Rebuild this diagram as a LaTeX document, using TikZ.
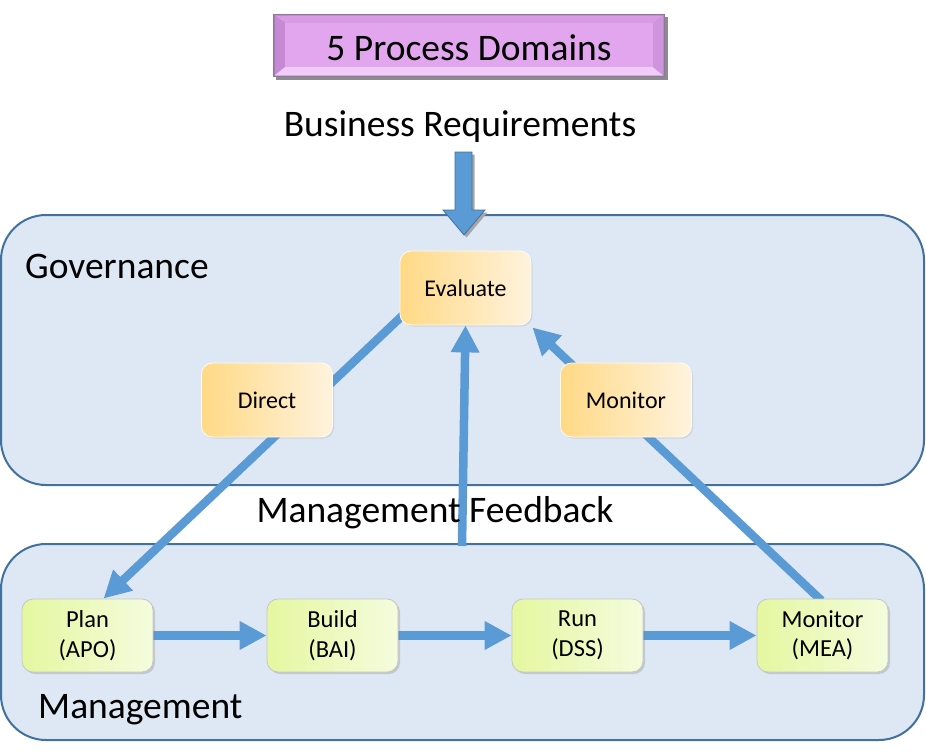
\documentclass[tikz,border=0pt]{standalone}
\usepackage{fontspec}
\setmainfont{Carlito}
\usetikzlibrary{arrows.meta,shadows,calc}
\pgfdeclarelayer{bottom}
\pgfdeclarelayer{middle}
\pgfsetlayers{bottom,middle,main}
\definecolor{flowblue}{HTML}{5B9BD5}
\definecolor{flowdark}{HTML}{41719C}
\definecolor{regfill}{HTML}{DEE8F4}
\definecolor{regline}{HTML}{41719C}
\definecolor{orgA}{HTML}{FFD985}
\definecolor{orgB}{HTML}{FFF3DE}
\definecolor{grnA}{HTML}{E5F7A0}
\definecolor{grnB}{HTML}{F4FCDD}
\definecolor{purIn}{HTML}{E2A6EE}
\definecolor{purTop}{HTML}{D99AE6}
\definecolor{purLeft}{HTML}{C68AD4}
\definecolor{purBot}{HTML}{F2CCF8}
\definecolor{purRight}{HTML}{CF95DC}
\definecolor{purEdge}{HTML}{8E76A0}
\tikzset{
  bigtext/.style={font=\fontsize{37.5}{44}\selectfont, inner sep=0pt},
  region/.style={draw=regline, line width=2pt, fill=regfill, rounded corners=45pt, minimum width=923pt},
  govbox/.style={rounded corners=11pt, minimum width=131pt, minimum height=74pt,
     left color=orgA, right color=orgB, draw=white!60!orgB, line width=0.8pt,
     drop shadow={opacity=0.18, shadow xshift=1.5pt, shadow yshift=-1.5pt},
     font=\fontsize{24}{29}\selectfont, align=center},
  mgmtbox/.style={rounded corners=11pt, minimum width=131pt, minimum height=73pt,
     left color=grnA, right color=grnB, draw=gray!45, line width=0.8pt,
     drop shadow={opacity=0.3, shadow xshift=2pt, shadow yshift=-2pt},
     font=\fontsize{24.5}{29.5}\selectfont, align=center},
  flow/.style={draw=flowblue, line width=8.5pt, -{Triangle[length=27pt,width=27pt]}},
}
\begin{document}
\begin{tikzpicture}[x=1pt,y=-1pt]
\useasboundingbox (0,0) rectangle (926,752);
% regions
\begin{pgfonlayer}{bottom}
\fill[white] (0,0) rectangle (926,752);
\node[region, minimum height=270pt] (gov) at (462.5,350) {};
\node[region, minimum height=196pt] (mgmt) at (462.5,642) {};
\end{pgfonlayer}
% title box
\fill[black!45] (276,17) rectangle (668,80);
\fill[purEdge] (273,14) rectangle (665,77);
\fill[purTop] (274.5,15.5) -- (663.5,15.5) -- (653,23) -- (285,23) -- cycle;
\fill[purLeft] (274.5,15.5) -- (285,23) -- (285,67) -- (274.5,75.5) -- cycle;
\fill[purBot] (274.5,75.5) -- (285,67) -- (653,67) -- (663.5,75.5) -- cycle;
\fill[purRight] (663.5,15.5) -- (653,23) -- (653,67) -- (663.5,75.5) -- cycle;
\fill[purIn] (285,23) rectangle (653,67);
\node[bigtext] (title) at (469,48) {5 Process Domains};
\node[bigtext] (breq) at (460,127) {Business Requirements};
% big down arrow
\begin{pgfonlayer}{middle}
\fill[black!35] (457.5,154.5) -- (474.5,154.5) -- (474.5,212.5) -- (487.5,212.5) -- (466.5,237.5) -- (445.5,212.5) -- (457.5,212.5) -- cycle;
\filldraw[fill=flowblue, draw=flowdark, line width=0.8pt] (455,152) -- (472,152) -- (472,210) -- (485,210) -- (464,235) -- (443,210) -- (455,210) -- cycle;
\end{pgfonlayer}
% labels
\node[bigtext, anchor=west] (govlabel) at (25,266) {Governance};
\node[bigtext, anchor=west] (mgmtlabel) at (38,710) {Management};
\node[bigtext] (fblabel) at (435,513) {Management Feedback};
% governance nodes
\node[govbox] (eval) at (465.5,288) {Evaluate};
\node[govbox] (direct) at (267,400) {Direct};
\node[govbox] (gmon) at (626,400) {Monitor};
% management nodes
\node[mgmtbox] (plan) at (87.5,635.5) {Plan\\(APO)};
\node[mgmtbox] (build) at (332.5,635.5) {Build\\(BAI)};
\node[mgmtbox] (run) at (577.5,635.5) {Run\\(DSS)};
\node[mgmtbox] (mea) at (822.5,635.5) {Monitor\\(MEA)};
\coordinate (fb) at (462,546);
% connectors
\begin{pgfonlayer}{middle}
\draw[flow] ($(eval.south west)+(21,-27)$) -- ($(plan.north)+(16,0)$);
\draw[flow] (fb) -- (eval.south);
\draw[flow] ($(mea.north)+(-1,2)$) -- ($(eval.south east)+(1,2)$);
\draw[flow] (plan.east) -- (build.west);
\draw[flow] (build.east) -- (run.west);
\draw[flow] (run.east) -- (mea.west);
\end{pgfonlayer}
\end{tikzpicture}
\end{document}
